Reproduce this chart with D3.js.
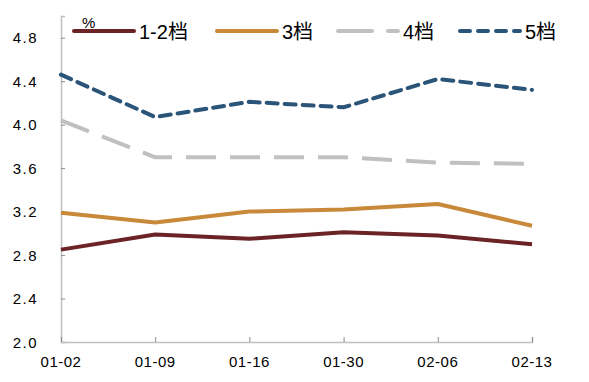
<!DOCTYPE html>
<html>
<head>
<meta charset="utf-8">
<script src="https://cdn.jsdelivr.net/npm/d3@7"></script>
<style>
  body { margin: 0; background: #fff; }
  text { font-family: "Liberation Sans", "Noto Sans CJK SC", sans-serif; }
</style>
</head>
<body>
<div id="chart"></div>
<script>
const svgWidth = 589;
const svgHeight = 382;

const dates = ["01-02", "01-09", "01-16", "01-30", "02-06", "02-13"];
const seriesNames = ["1-2档", "3档", "4档", "5档"];
const tier12 = [2.85, 2.99, 2.95, 3.01, 2.98, 2.90];
const tier3 = [3.19, 3.10, 3.20, 3.22, 3.27, 3.07];
const tier4 = [4.04, 3.70, 3.70, 3.70, 3.65, 3.64];
const tier5 = [4.46, 4.07, 4.21, 4.16, 4.42, 4.32];
const yTicks = [2.0, 2.4, 2.8, 3.2, 3.6, 4.0, 4.4, 4.8];

const colors = ["#6b2326", "#c8893a", "#c0c0c0", "#2b5479"];
const dashes = [null, null, "30,14", "11,7"];

const svg = d3.select("#chart")
    .append("svg")
    .attr("width", svgWidth)
    .attr("height", svgHeight);

const x = d3.scalePoint()
    .domain(dates)
    .range([61, 532]);

const y = d3.scaleLinear()
    .domain([2.0, 5.0])
    .range([342, 16]);

// axes
const yAxis = svg.append("g")
    .attr("transform", "translate(61,0)")
    .call(d3.axisRight(y).tickValues(yTicks).tickSize(4).tickFormat(""));
yAxis.select(".domain").attr("stroke", "#bfbfbf").attr("stroke-width", 1.5);
yAxis.selectAll(".tick line").attr("stroke", "#8c8c8c");

svg.selectAll(".ylab")
    .data(yTicks)
    .enter().append("text")
    .attr("class", "ylab")
    .attr("x", 38)
    .attr("y", d => y(d) + 5.5)
    .attr("text-anchor", "end")
    .attr("font-size", 15)
    .attr("letter-spacing", 1.5)
    .attr("fill", "#000")
    .text(d => d.toFixed(1));

const xAxis = svg.append("g")
    .attr("transform", "translate(0,342)")
    .call(d3.axisTop(x).tickSize(5).tickFormat(""));
xAxis.select(".domain").attr("stroke", "#bfbfbf").attr("stroke-width", 1.5);
xAxis.selectAll(".tick line").attr("stroke", "#8c8c8c");

svg.selectAll(".xlab")
    .data(dates)
    .enter().append("text")
    .attr("class", "xlab")
    .attr("x", d => x(d))
    .attr("y", 367)
    .attr("text-anchor", "middle")
    .attr("font-size", 15)
    .attr("letter-spacing", 0.5)
    .attr("fill", "#000")
    .text(d => d);

// lines
const allSeries = [tier12, tier3, tier4, tier5];
const line = d3.line()
    .x((d, i) => x(dates[i]))
    .y(d => y(d));

allSeries.forEach(function (vals, k) {
    svg.append("path")
        .datum(vals)
        .attr("fill", "none")
        .attr("stroke", colors[k])
        .attr("stroke-width", 4)
        .attr("stroke-linejoin", "round")
        .attr("stroke-linecap", k === 3 ? "round" : "butt")
        .attr("stroke-dasharray", dashes[k])
        .attr("d", line);
});

// unit label
svg.append("text")
    .attr("x", 82)
    .attr("y", 28)
    .attr("font-size", 15)
    .attr("fill", "#000")
    .text("%");

// legend
const legendX = [74, 217, 338, 460];
seriesNames.forEach(function (name, k) {
    svg.append("line")
        .attr("x1", legendX[k])
        .attr("x2", legendX[k] + 60)
        .attr("y1", 31)
        .attr("y2", 31)
        .attr("stroke", colors[k])
        .attr("stroke-width", 4)
        .attr("stroke-linecap", "round")
        .attr("stroke-dasharray", k === 2 ? "34,16" : k === 3 ? "10,8" : null);
    svg.append("text")
        .attr("x", legendX[k] + 65)
        .attr("y", 39)
        .attr("font-size", 20)
        .attr("fill", "#000")
        .text(name);
});
</script>
</body>
</html>
